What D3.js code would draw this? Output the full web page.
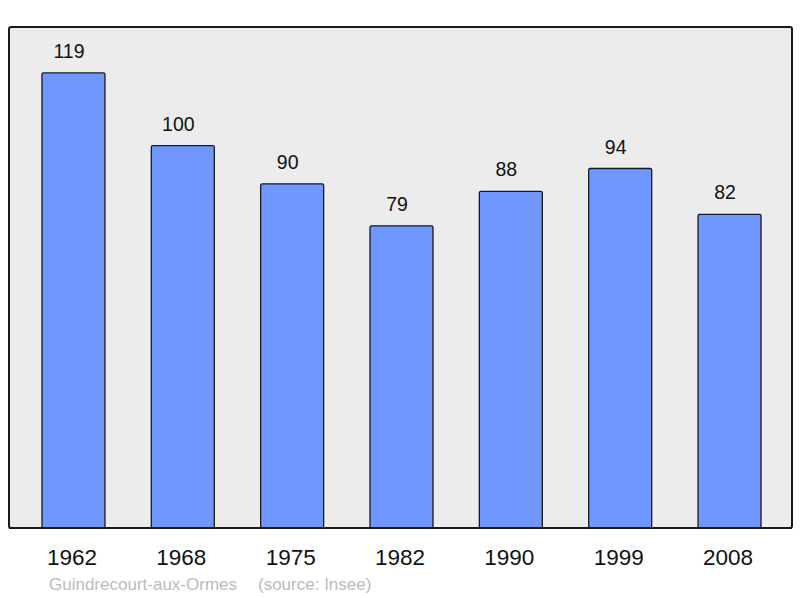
<!DOCTYPE html>
<html>
<head>
<meta charset="utf-8">
<script src="https://cdn.jsdelivr.net/npm/d3@7"></script>
<style>
  body { margin: 0; background: #fff; }
  text { font-family: "Liberation Sans", Arial, sans-serif; }
</style>
</head>
<body>
<div id="chart"></div>
<script>
// population by census year
var years = ['1962', '1968', '1975', '1982', '1990', '1999', '2008'];
var population = [119, 100, 90, 79, 88, 94, 82];
var townName = 'Guindrecourt-aux-Ormes';
var sourceNote = '(source: Insee)';

var width = 800, height = 598;
var panel = { left: 9, top: 27, right: 792, bottom: 528 };

var svg = d3.select('#chart').append('svg')
  .attr('width', width)
  .attr('height', height);

// grey plot frame
svg.append('rect')
  .attr('x', panel.left)
  .attr('y', panel.top)
  .attr('width', panel.right - panel.left)
  .attr('height', panel.bottom - panel.top)
  .attr('rx', 2)
  .attr('fill', '#ececec')
  .attr('stroke', '#1a1a1a')
  .attr('stroke-width', 2);

var x = d3.scaleBand()
  .domain(years)
  .range([18.8, 784.2])
  .paddingInner(0.424)
  .paddingOuter(0.212);

var y = d3.scaleLinear()
  .domain([0, 131])
  .range([panel.bottom, panel.top]);

// bars
svg.selectAll('rect.bar').data(years)
  .enter().append('rect')
  .attr('class', 'bar')
  .attr('x', function (d) { return x(d); })
  .attr('y', function (d, i) { return y(population[i]); })
  .attr('width', x.bandwidth())
  .attr('height', function (d, i) { return y(0) - y(population[i]); })
  .attr('rx', 1.5)
  .attr('fill', '#7097ff')
  .attr('stroke', '#1a1a1a')
  .attr('stroke-width', 1.3);

// value labels above each bar (sit a little left of the bar centre)
svg.selectAll('text.val').data(years)
  .enter().append('text')
  .attr('class', 'val')
  .attr('x', function (d) { return x(d) + x.bandwidth() / 2 - 4.5; })
  .attr('y', function (d, i) { return y(population[i]) - 15; })
  .attr('text-anchor', 'middle')
  .attr('font-size', 19.5)
  .attr('fill', '#111')
  .text(function (d, i) { return population[i]; });

// redraw the bottom edge over the bars
svg.append('line')
  .attr('x1', panel.left).attr('x2', panel.right)
  .attr('y1', panel.bottom).attr('y2', panel.bottom)
  .attr('stroke', '#1a1a1a')
  .attr('stroke-width', 2);

// year labels
var xAxis = d3.axisBottom(x).tickSize(0).tickPadding(0);
var axisG = svg.append('g')
  .attr('transform', 'translate(0,' + panel.bottom + ')')
  .call(xAxis);
axisG.select('.domain').remove();
axisG.selectAll('text')
  .attr('dy', null)
  .attr('x', -1.5)
  .attr('y', 37)
  .attr('font-size', 22.5)
  .attr('font-family', '"Liberation Sans", Arial, sans-serif')
  .attr('fill', '#111');

// footer
svg.append('text')
  .attr('x', 49)
  .attr('y', 590)
  .attr('font-size', 17)
  .attr('fill', '#bbbbbb')
  .text(townName);

svg.append('text')
  .attr('x', 258)
  .attr('y', 590)
  .attr('font-size', 17)
  .attr('fill', '#bbbbbb')
  .text(sourceNote);
</script>
</body>
</html>
